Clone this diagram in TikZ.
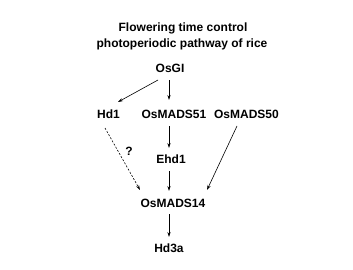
\documentclass[tikz,border=0pt]{standalone}
\usepackage{fontspec}
\setmainfont{Liberation Sans}
\usetikzlibrary{calc,arrows.meta}
\begin{document}
\begin{tikzpicture}[x=1pt,y=-1pt,
  lbl/.style={font=\fontsize{12}{15}\selectfont\bfseries, anchor=base, inner sep=0pt},
  arr/.style={line width=0.6pt, -{Stealth[length=5pt,width=3.2pt]}},
  dsh/.style={arr, dash pattern=on 2pt off 1.6pt}]
\useasboundingbox (0,0) rectangle (353,270);
\node[lbl] (t1) at (183,32) {Flowering time control};
\node[lbl] (t2) at (182,48) {photoperiodic pathway of rice};
\node[lbl] (osgi) at (170,73) {OsGI};
\node[lbl] (hd1) at (108.5,118) {Hd1};
\node[lbl] (m51) at (174,118) {OsMADS51};
\node[lbl] (m50) at (246.5,118) {OsMADS50};
\node[lbl] (ehd1) at (171,163) {Ehd1};
\node[lbl] (m14) at (173,207) {OsMADS14};
\node[lbl] (hd3a) at (169,252) {Hd3a};
\node[lbl] (q) at (129,155) {?};
\draw[arr] ($(osgi.base)+(-12,7)$) -- ($(hd1.base)+(9.5,-16)$);
\draw[arr] ($(osgi.base)+(-1,7)$) -- ($(m51.base)+(-5,-18)$);
\draw[arr] ($(m51.base)+(-5,8)$) -- ($(ehd1.base)+(-2,-15)$);
\draw[arr] ($(ehd1.base)+(-2,8)$) -- ($(m14.base)+(-4,-16)$);
\draw[arr] ($(m14.base)+(-4,7)$) -- ($(hd3a.base)+(0,-15)$);
\draw[dsh] ($(hd1.base)+(-3.5,10)$) -- ($(m14.base)+(-33,-17)$);
\draw[arr] ($(m50.base)+(-9.5,8)$) -- ($(m14.base)+(34,-17)$);
\end{tikzpicture}
\end{document}
